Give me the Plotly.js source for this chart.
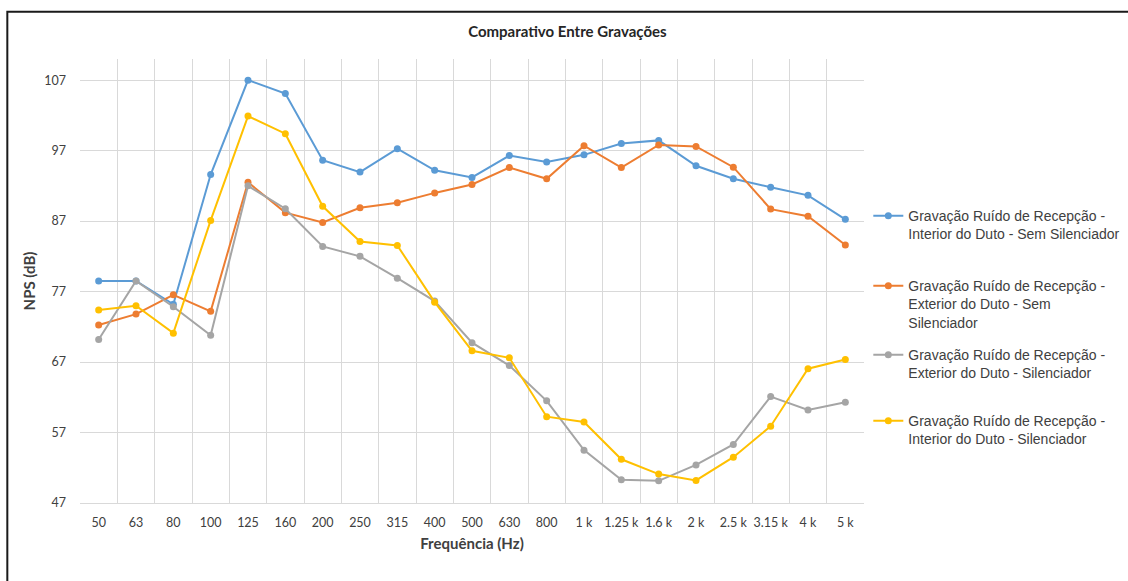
<!DOCTYPE html>
<html>
<head>
<meta charset="utf-8">
<script src="https://cdn.plot.ly/plotly-3.0.1.min.js"></script>
<style>
html,body{margin:0;padding:0;background:#fff;}
#chart{width:1128px;height:581px;}
</style>
</head>
<body>
<div id="chart"></div>
<script>
var categories = ["50","63","80","100","125","160","200","250","315","400","500","630","800","1 k","1.25 k","1.6 k","2 k","2.5 k","3.15 k","4 k","5 k"];

var seriesNames = [
  "Gravação Ruído de Recepção -<br>Interior do Duto - Sem Silenciador",
  "Gravação Ruído de Recepção -<br>Exterior do Duto - Sem<br>Silenciador",
  "Gravação Ruído de Recepção -<br>Exterior do Duto - Silenciador",
  "Gravação Ruído de Recepção -<br>Interior do Duto - Silenciador"
];

var interiorSem = [78.5, 78.5, 75.2, 93.6, 107.0, 105.1, 95.65, 93.95, 97.27, 94.2, 93.2, 96.3, 95.4, 96.4, 98.0, 98.45, 94.85, 93.0, 91.8, 90.65, 87.25];
var exteriorSem = [72.25, 73.8, 76.55, 74.2, 92.5, 88.2, 86.8, 88.9, 89.6, 91.0, 92.2, 94.6, 93.0, 97.7, 94.6, 97.8, 97.6, 94.65, 88.7, 87.7, 83.6];
var exteriorSil = [70.2, 78.5, 74.85, 70.8, 92.0, 88.75, 83.4, 82.0, 78.9, 75.65, 69.75, 66.5, 61.5, 54.5, 50.3, 50.15, 52.4, 55.3, 62.1, 60.2, 61.3];
var interiorSil = [74.4, 75.0, 71.1, 87.1, 101.9, 99.4, 89.1, 84.1, 83.55, 75.5, 68.6, 67.6, 59.25, 58.5, 53.2, 51.1, 50.2, 53.5, 57.9, 66.05, 67.35];

var colors = ["#5b9bd5", "#ed7d31", "#a5a5a5", "#ffc000"];
var allSeries = [interiorSem, exteriorSem, exteriorSil, interiorSil];
var legendIds = ["legend", "legend2", "legend3", "legend4"];

var traces = allSeries.map(function(vals, i){
  return {
    type: "scatter",
    mode: "lines+markers",
    x: categories,
    y: vals,
    name: seriesNames[i],
    legend: legendIds[i],
    line: {color: colors[i], width: 2},
    marker: {color: colors[i], size: 7}
  };
});

var legendFont = {family: "Liberation Sans, Arial, sans-serif", size: 14, color: "#404040"};
function mkLegend(y){
  return {x: 1.0055, y: y, xanchor: "left", yanchor: "top", font: legendFont,
          valign: "top", bgcolor: "rgba(0,0,0,0)", borderwidth: 0, itemwidth: 30};
}

var tickFont = {family: "Lato, sans-serif", size: 12.5, color: "#404040"};
var layout = {
  width: 1128, height: 581,
  paper_bgcolor: "#ffffff", plot_bgcolor: "#ffffff",
  margin: {l: 80.4, r: 264.3, t: 59.2, b: 77.7, autoexpand: false},
  title: {text: "<b>Comparativo Entre Gravações</b>", x: 0.503, xref: "container", xanchor: "center",
          y: 0.945, yanchor: "middle",
          font: {family: "Lato, sans-serif", size: 15, color: "#262626"}},
  xaxis: {
    type: "category", range: [-0.5, 20.5], tickson: "boundaries",
    showgrid: true, gridcolor: "#d9d9d9", gridwidth: 1,
    showline: true, linecolor: "#d9d9d9", linewidth: 1,
    ticks: "", tickangle: 0, tickfont: tickFont, ticklabelstandoff: 8,
    title: {text: "<b>Frequência (Hz)</b>", font: {family: "Lato, sans-serif", size: 15, color: "#404040"}, standoff: 9},
    fixedrange: true
  },
  yaxis: {
    range: [47, 110], tick0: 47, dtick: 10,
    showgrid: true, gridcolor: "#d9d9d9", gridwidth: 1, zeroline: false,
    showline: false, ticks: "", tickfont: tickFont, ticklabelstandoff: 13,
    title: {text: "<b>NPS (dB)</b>", font: {family: "Lato, sans-serif", size: 15, color: "#404040"}, standoff: 5},
    fixedrange: true
  },
  legend: mkLegend(0.682),
  legend2: mkLegend(0.5246),
  legend3: mkLegend(0.3692),
  legend4: mkLegend(0.2206),
  shapes: [{
    type: "rect", xref: "paper", yref: "paper",
    x0: -0.0927, x1: 1.6, y0: -0.3, y1: 1.1063,
    line: {color: "#1a1a1a", width: 2}, fillcolor: "rgba(0,0,0,0)", layer: "above"
  }],
  showlegend: true
};

Plotly.newPlot("chart", traces, layout, {displayModeBar: false, staticPlot: true});
</script>
</body>
</html>
